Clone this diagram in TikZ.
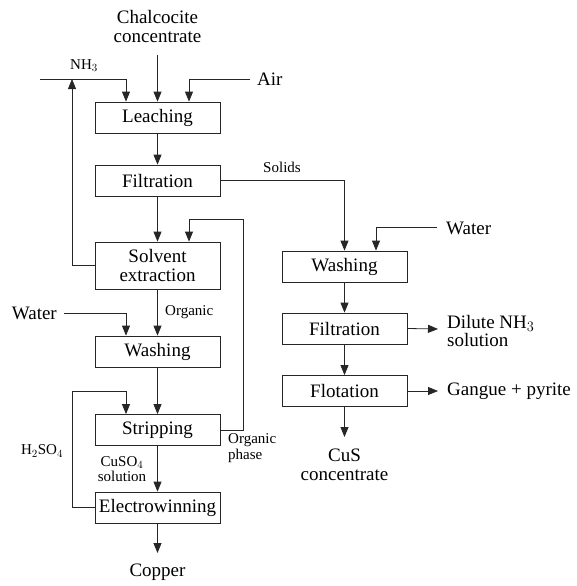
\documentclass[tikz,border=0pt]{standalone}
\usepackage{fontspec}
\setmainfont{Liberation Serif}
\usetikzlibrary{arrows.meta}
\begin{document}
\begin{tikzpicture}[x=1pt,y=-1pt,
  line/.style={draw=black!85,line width=0.8pt},
  arr/.style={line,-{Triangle[length=10pt,width=8pt]}},
  unit/.style={draw=black!85,line width=0.8pt,minimum width=125pt,minimum height=31pt,inner sep=1pt,font=\fontsize{19}{19}\selectfont,align=center},
  big/.style={font=\fontsize{19}{19}\selectfont,inner sep=1pt,align=center},
  small/.style={font=\fontsize{15}{15.5}\selectfont,inner sep=1pt},
]
\useasboundingbox (0,0) rectangle (577,586);
% process units
\node[unit] (leach) at (157.5,117.5) {Leaching};
\node[unit] (filt1) at (157.5,180.5) {Filtration};
\node[unit,minimum height=47pt] (solv) at (157.5,265.5) {Solvent\\extraction};
\node[unit] (wash1) at (157.5,351.5) {Washing};
\node[unit] (strip) at (157.5,430) {Stripping};
\node[unit] (elec) at (157.5,507.5) {Electrowinning};
\node[unit] (wash2) at (344.5,266.5) {Washing};
\node[unit] (filt2) at (344.5,328.5) {Filtration};
\node[unit] (flot) at (344.5,391) {Flotation};
% texts
\node[big] (chalc) at (157.5,27) {Chalcocite\\concentrate};
\node[big] (copper) at (157.5,572) {Copper};
\node[big] (cus) at (344.5,465) {CuS\\concentrate};
\node[big,anchor=west] (gangue) at (446,391) {Gangue + pyrite};
\node[big,anchor=west,align=left] (dilute) at (446,331) {Dilute NH$_3$\\[-1pt]solution};
\node[big,anchor=west] (air) at (256,79) {Air};
\node[big,anchor=west] (water2) at (445,228) {Water};
\node[big,anchor=east] (water1) at (58,313) {Water};
\node[small] (nh3) at (84,66) {NH$_3$};
\node[small] (solids) at (282,167) {Solids};
\node[small,anchor=west] (organic) at (164,312) {Organic};
\node[small,anchor=west,align=left] (orgphase) at (227,448) {Organic\\phase};
\node[small,align=center] (cuso4) at (122,469) {CuSO$_4$\\solution};
\node[small] (h2so4) at (42,451) {H$_2$SO$_4$};
% coordinates
\coordinate (chalcs) at (157.5,55);
\coordinate (nh3s) at (40,79);
\coordinate (nh3j) at (72,79);
\coordinate (airs) at (250,79);
\coordinate (w2s) at (437,227);
\coordinate (dil) at (438,329);
\coordinate (gan) at (438,391);
\coordinate (cusend) at (344.5,437);
\coordinate (or1) at (243,219);
\coordinate (w1s) at (64,313);
\coordinate (h1) at (72,391);
\coordinate (cuend) at (157.5,553);
% connectors
\draw[arr] (chalcs) -- (leach.north);
\draw[arr] (nh3s) -| ([xshift=-31.5pt]leach.north);
\draw[arr] (airs) -| ([xshift=31.5pt]leach.north);
\draw[arr] (solv.west) -| (nh3j);
\draw[arr] (leach) -- (filt1);
\draw[arr] (filt1) -- (solv);
\draw[arr] (filt1.east) -| (wash2.north);
\draw[arr] (w2s) -| ([xshift=31.5pt]wash2.north);
\draw[arr] (wash2) -- (filt2);
\draw[arr] (filt2) -- (flot);
\draw[arr] (filt2.east) -- (dil);
\draw[arr] (flot.east) -- (gan);
\draw[arr] (flot.south) -- (cusend);
\draw[arr] (strip.east) -| (or1) -| ([xshift=31.5pt]solv.north);
\draw[arr] (solv) -- (wash1);
\draw[arr] (w1s) -| ([xshift=-31.5pt]wash1.north);
\draw[arr] (wash1) -- (strip);
\draw[arr] (elec.west) -| (h1) -| ([xshift=-31.5pt]strip.north);
\draw[arr] (strip) -- (elec);
\draw[arr] (elec.south) -- (cuend);
\end{tikzpicture}
\end{document}
